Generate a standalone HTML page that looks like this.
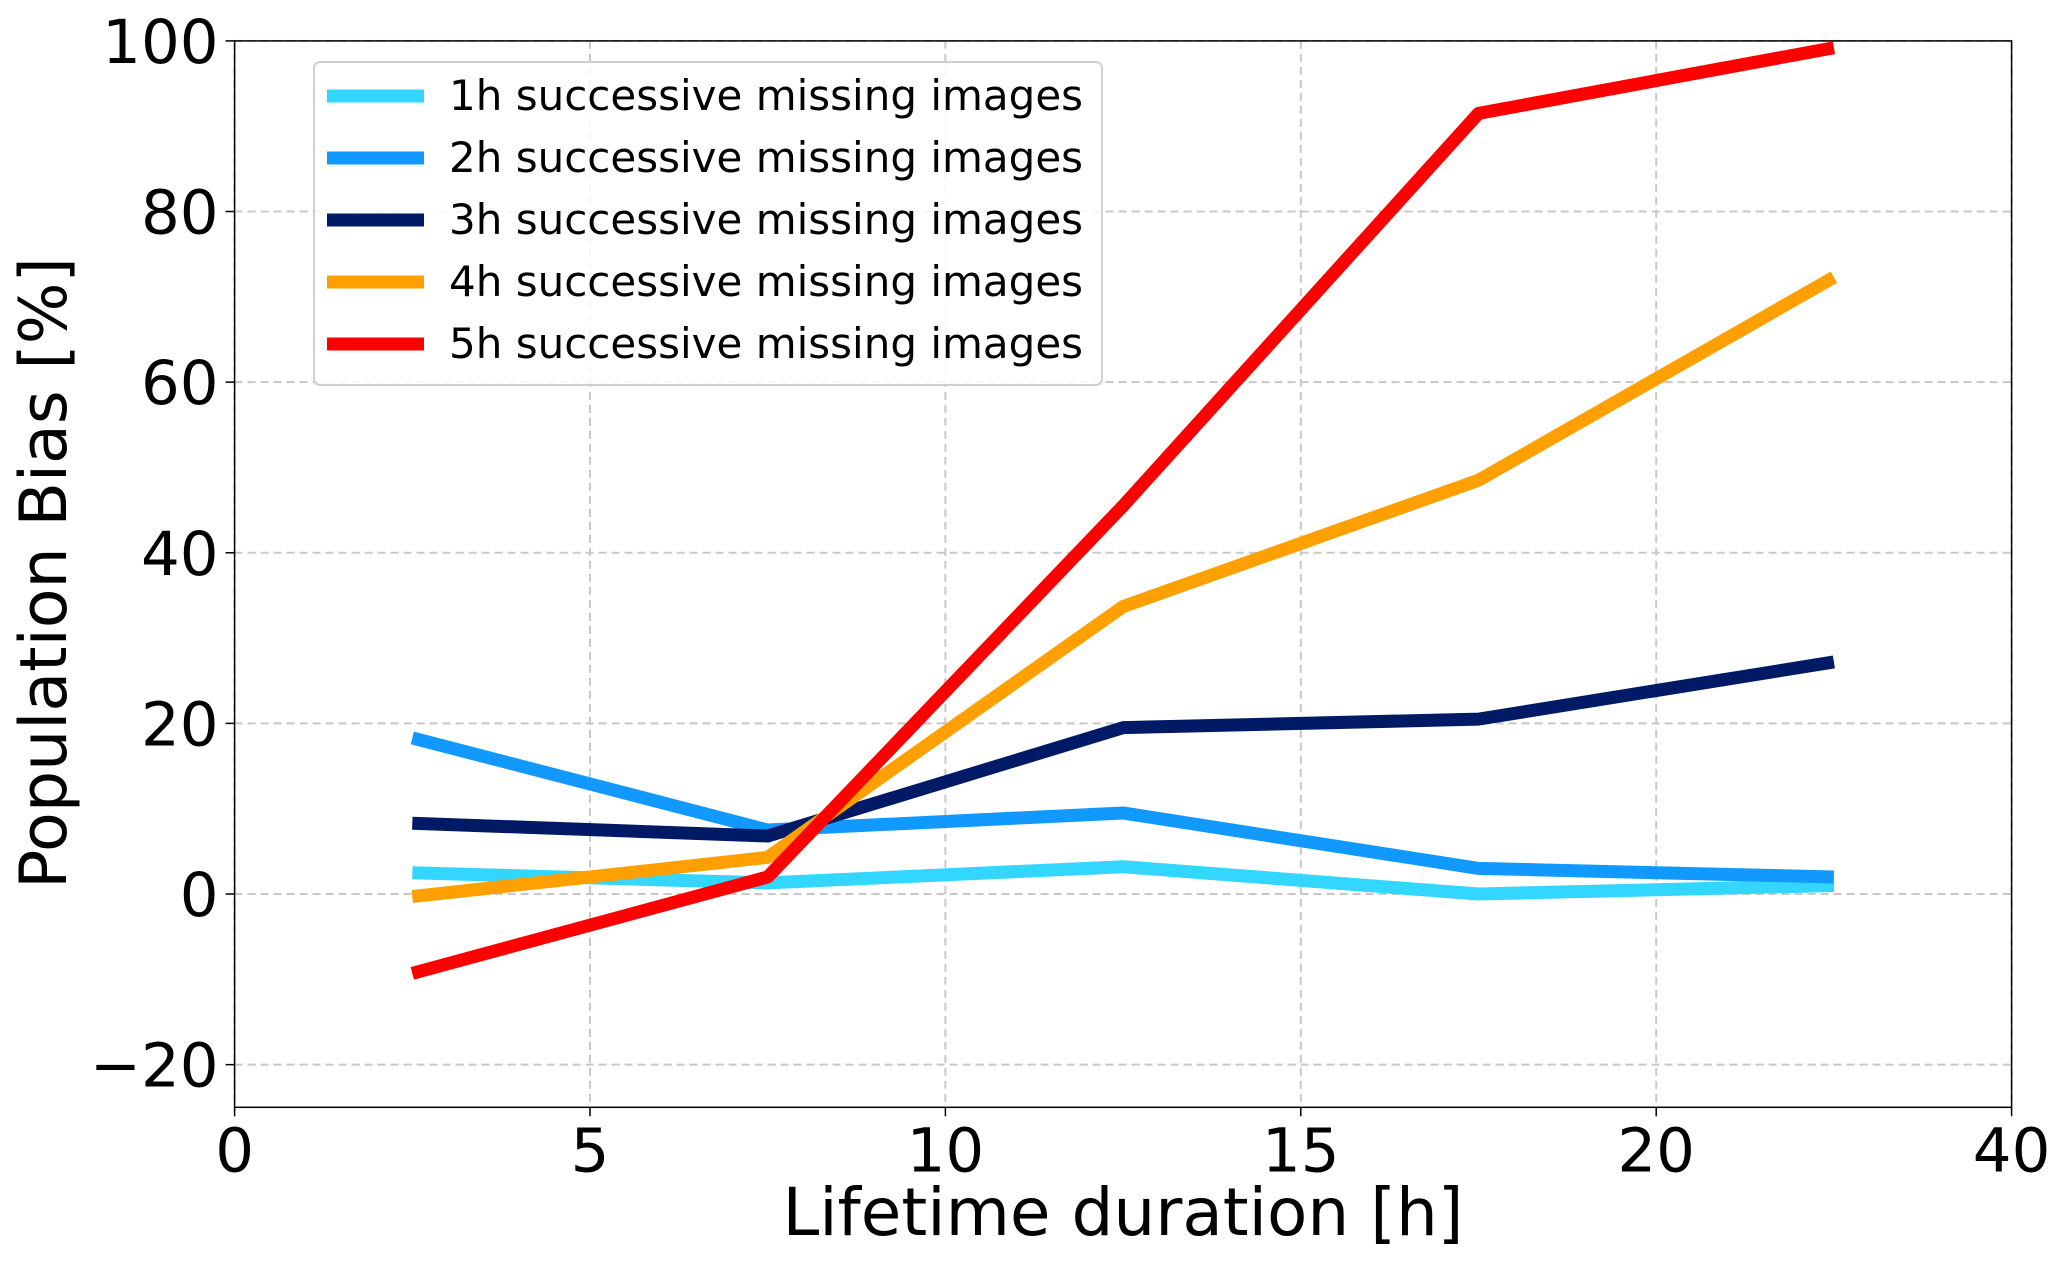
<!DOCTYPE html>
<html><head><meta charset="utf-8"><style>
html,body{margin:0;padding:0;background:#fff;}
svg{display:block;font-family:"DejaVu Sans","Liberation Sans",sans-serif;}
</style></head><body>
<svg id="chart" width="2067" height="1262" viewBox="0 0 2067 1262" xmlns="http://www.w3.org/2000/svg">
<g id="grid"></g>
<g id="series"></g>
<rect x="234.6" y="40.9" width="1777" height="1066.4" fill="none" stroke="#000" stroke-width="1.5"/>
<g id="ticks"></g>
<text x="1123" y="1235" font-size="66" text-anchor="middle">Lifetime duration [h]</text>
<text transform="translate(66,573) rotate(-90)" font-size="65" text-anchor="middle">Population Bias [%]</text>
<g id="legend"></g>
</svg>
<script>
const xs = [2.5, 7.5, 12.5, 17.5, 22.5];
const s1h = [2.5, 1.3, 3.2, 0.0, 1.0];
const s2h = [18.3, 7.5, 9.5, 3.0, 2.0];
const s3h = [8.3, 6.8, 19.5, 20.5, 27.2];
const s4h = [-0.3, 4.3, 33.7, 48.5, 72.3];
const s5h = [-9.3, 2.0, 45.5, 91.5, 99.2];
const seriesNames = ["1h successive missing images","2h successive missing images","3h successive missing images","4h successive missing images","5h successive missing images"];
const xTicks = [0, 5, 10, 15, 20, 25];
const xTickLabels = ["0","5","10","15","20","40"];
const yTicks = [-20, 0, 20, 40, 60, 80, 100];
const yTickLabels = ["\u221220","0","20","40","60","80","100"];

const L=234.6,R=2011.6,T=40.9,B=1107.3,xmin=0,xmax=25,ymin=-25,ymax=100;
const X=v=>L+(v-xmin)/(xmax-xmin)*(R-L);
const Y=v=>B-(v-ymin)/(ymax-ymin)*(B-T);
const NS="http://www.w3.org/2000/svg";
function mk(tag,attrs,parent){const e=document.createElementNS(NS,tag);for(const k in attrs)e.setAttribute(k,attrs[k]);parent.appendChild(e);return e;}
const grid=document.getElementById('grid'),ticks=document.getElementById('ticks'),ser=document.getElementById('series'),leg=document.getElementById('legend');
xTicks.forEach((t,i)=>{
  const g=mk('line',{x1:X(t),x2:X(t),y1:T,y2:B,stroke:'#c8c8c8','stroke-width':2,'stroke-dasharray':'8,5'},grid);
  
  
  const tk=mk('line',{x1:X(t),x2:X(t),y1:B,y2:B+9,stroke:'#000','stroke-width':1.5},ticks);
  
  
  const tx=mk('text',{x:X(t),y:B+64,'font-size':61,'text-anchor':'middle'},ticks);
  tx.textContent=xTickLabels[i];
  
  
});
yTicks.forEach((t,i)=>{
  const g=mk('line',{x1:L,x2:R,y1:Y(t),y2:Y(t),stroke:'#c8c8c8','stroke-width':2,'stroke-dasharray':'8,5'},grid);
  
  
  const tk=mk('line',{x1:L-9,x2:L,y1:Y(t),y2:Y(t),stroke:'#000','stroke-width':1.5},ticks);
  
  
  const tx=mk('text',{x:L-16,y:Y(t)+22,'font-size':61,'text-anchor':'end'},ticks);
  tx.textContent=yTickLabels[i];
  
  
});
const all=[s1h,s2h,s3h,s4h,s5h];
const colors=['#33d6ff','#1199ff','#001a66','#ffa000','#ff0000'];
all.forEach((s,k)=>{
  const p=mk('polyline',{points:s.map((v,i)=>X(xs[i])+','+Y(v)).join(' '),fill:'none',stroke:colors[k],'stroke-width':13,'stroke-linejoin':'round'},ser);
  
  
});
const box=mk('rect',{x:314,y:62,width:788,height:323,rx:6,fill:'#fff','fill-opacity':0.85,stroke:'#d0d0d0','stroke-width':2},leg);


seriesNames.forEach((n,k)=>{
  const y=96+k*62;
  const ln=mk('line',{x1:327,x2:424,y1:y,y2:y,stroke:colors[k],'stroke-width':13},leg);
  
  
  const t=mk('text',{x:449,y:y+14,'font-size':42},leg);
  t.textContent=n;
  
  
});
</script>
</body></html>
